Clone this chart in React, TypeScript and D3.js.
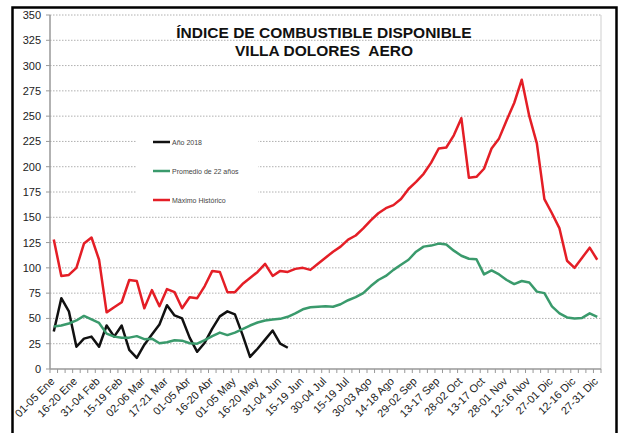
import React from "react";
import * as d3 from "d3";

const categories = [
  "01-05 Ene","06-10 Ene","11-15 Ene","16-20 Ene","21-25 Ene","26-30 Ene",
  "31-04 Feb","05-09 Feb","10-14 Feb","15-19 Feb","20-24 Feb","25-01 Mar",
  "02-06 Mar","07-11 Mar","12-16 Mar","17-21 Mar","22-26 Mar","27-31 Mar",
  "01-05 Abr","06-10 Abr","11-15 Abr","16-20 Abr","21-25 Abr","26-30 Abr",
  "01-05 May","06-10 May","11-15 May","16-20 May","21-25 May","26-30 May",
  "31-04 Jun","05-09 Jun","10-14 Jun","15-19 Jun","20-24 Jun","25-29 Jun",
  "30-04 Jul","05-09 Jul","10-14 Jul","15-19 Jul","20-24 Jul","25-29 Jul",
  "30-03 Ago","04-08 Ago","09-13 Ago","14-18 Ago","19-23 Ago","24-28 Ago",
  "29-02 Sep","03-07 Sep","08-12 Sep","13-17 Sep","18-22 Sep","23-27 Sep",
  "28-02 Oct","03-07 Oct","08-12 Oct","13-17 Oct","18-22 Oct","23-27 Oct",
  "28-01 Nov","02-06 Nov","07-11 Nov","12-16 Nov","17-21 Nov","22-26 Nov",
  "27-01 Dic","02-06 Dic","07-11 Dic","12-16 Dic","17-21 Dic","22-26 Dic",
  "27-31 Dic"
];

const anio2018 = [
  37, 70, 57, 22, 30, 32, 22, 43, 32, 43, 19, 11, 24, 34, 44, 63, 53, 50,
  31, 17, 26, 40, 52, 57, 54, 34, 12, 20, 29, 38, 25, 21
];

const promedio22 = [
  42, 43, 45, 48, 52.5, 49, 45.5, 35, 32, 31, 31, 32.5, 29.5, 30, 25.5, 26.5,
  28.5, 28, 25.5, 25, 28.5, 32.5, 36, 33.5, 36, 39.5, 43, 46, 48, 49, 49.6,
  51.6, 55, 59, 61, 61.6, 62, 61.5, 64, 68, 71, 75, 82, 88, 92, 98, 103, 108,
  116, 121, 122, 124, 123, 117, 112, 109, 108.5, 93.5, 97.5, 93.5, 88, 84, 87,
  85.5, 76.5, 75, 62, 55, 51, 50, 50.5, 55, 51.5
];

const maximoHistorico = [
  128, 92, 93, 100, 124, 130, 108, 56, 61, 66, 88, 87, 60, 78, 62, 79, 76, 60,
  71, 70, 82, 97, 96, 76, 76, 84, 90, 96, 104, 92, 97, 96, 99, 100, 98, 104,
  110, 116, 121, 128, 132, 139, 147, 154, 159, 162, 168, 178, 185, 193, 204,
  218, 219, 231, 248, 189, 190, 198, 218, 228, 246, 263, 286, 250, 223, 168,
  154, 139, 107, 100, 110, 120, 108
];

const yTicks = [0, 25, 50, 75, 100, 125, 150, 175, 200, 225, 250, 275, 300, 325, 350];

const seriesNames = ["Año 2018", "Promedio de 22 años", "Máximo Histórico"];
const seriesColors = ["#111111", "#3a9a6c", "#e41e26"];

export default function App() {
  const W = 625, H = 433;
  const left = 50, right = 601, top = 15, bottom = 369;
  const font = "'Liberation Sans', Arial, sans-serif";

  const x = d3.scaleBand<string>().domain(categories).range([left, right]).paddingInner(0).paddingOuter(0);
  const cx = (i: number) => (x(categories[i]) as number) + x.bandwidth() / 2;
  const y = d3.scaleLinear().domain([0, 350]).range([bottom, top]);

  const line = d3.line<number>().x((_, i) => cx(i)).y((d) => y(d));
  const series = [anio2018, promedio22, maximoHistorico];

  const boundaries = d3.range(categories.length + 1).map((i) => left + i * x.bandwidth());

  return (
    <svg width={W} height={H} style={{ position: "absolute", left: 0, top: 0 }}>
      <rect x={0} y={0} width={W} height={H} fill="#fff" />
      {/* outer frame */}
      <path d={`M12.5,440 L12.5,7.5 L616.5,7.5 L616.5,440`} fill="none" stroke="#000" strokeWidth={2.5} />
      {/* gridlines */}
      {yTicks.filter((t) => t > 0).map((t) => (
        <line key={t} x1={left} x2={right} y1={y(t)} y2={y(t)} stroke="#b0b0b0" strokeWidth={1} strokeDasharray="1.5,1.5" />
      ))}
      {/* plot border right */}
      <line x1={right} x2={right} y1={top} y2={bottom} stroke="#cfcfcf" strokeWidth={1} />
      {/* legend background */}
      <rect x={137} y={126} width={121} height={86} fill="#fff" />
      {/* title */}
      <text x={324} y={38} textAnchor="middle" fontFamily={font} fontWeight="bold" fontSize={15.5} fill="#111">ÍNDICE DE COMBUSTIBLE DISPONIBLE</text>
      <text x={324} y={56} textAnchor="middle" fontFamily={font} fontWeight="bold" fontSize={15.5} fill="#111" style={{ whiteSpace: "pre" }}>VILLA DOLORES  AERO</text>
      {/* axes */}
      <line x1={left} x2={left} y1={top} y2={bottom} stroke="#999" strokeWidth={1.5} />
      <line x1={left} x2={right} y1={bottom} y2={bottom} stroke="#999" strokeWidth={1.5} />
      {yTicks.map((t) => (
        <g key={t}>
          <line x1={left - 4} x2={left} y1={y(t)} y2={y(t)} stroke="#999" />
          <text x={41} y={y(t) + 4} textAnchor="end" fontFamily={font} fontSize={11} fill="#222">{t}</text>
        </g>
      ))}
      {boundaries.map((b, i) => (
        <line key={i} x1={b} x2={b} y1={bottom} y2={bottom + 4} stroke="#999" />
      ))}
      {categories.map((c, i) =>
        i % 3 === 0 ? (
          <text key={c} transform={`translate(${cx(i) + 1.5},${bottom + 13}) rotate(-45)`} textAnchor="end" fontFamily={font} fontSize={11} fill="#222">{c}</text>
        ) : null
      )}
      {/* lines */}
      {series.map((s, k) => (
        <path key={k} d={line(s) || ""} fill="none" stroke={seriesColors[k]} strokeWidth={2.5} strokeLinejoin="round" />
      ))}
      {/* legend */}
      {seriesNames.map((n, k) => (
        <g key={n}>
          <line x1={153} x2={170} y1={142 + k * 29} y2={142 + k * 29} stroke={seriesColors[k]} strokeWidth={2.5} />
          <text x={172} y={144.5 + k * 29} fontFamily={font} fontSize={7} fill="#444">{n}</text>
        </g>
      ))}
    </svg>
  );
}
